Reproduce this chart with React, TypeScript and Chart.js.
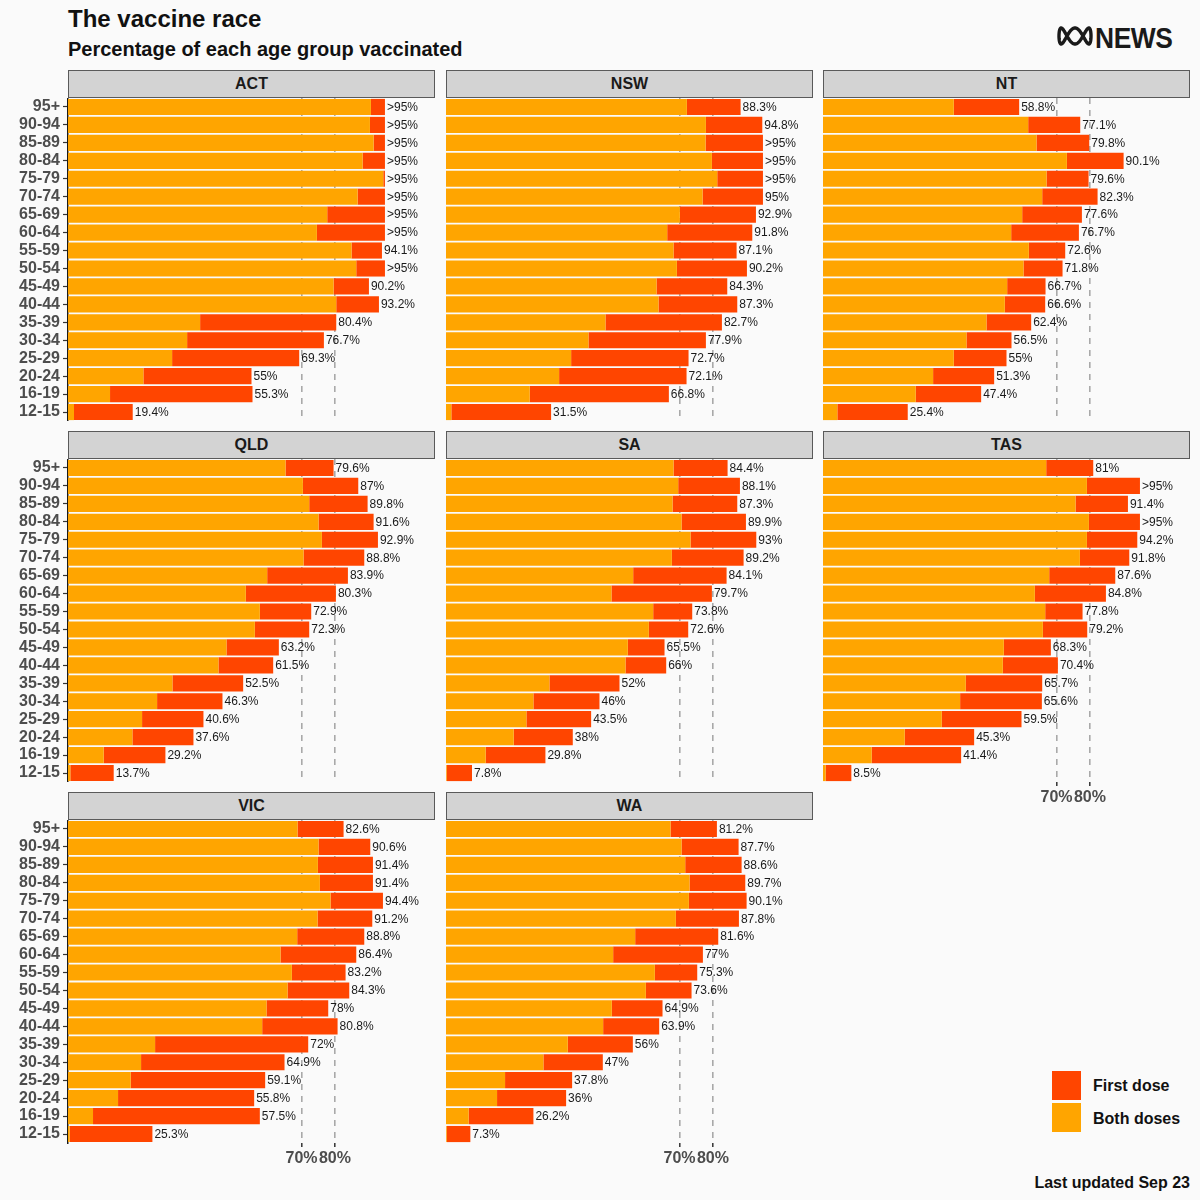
import React, { useEffect, useRef } from 'react';
import { Chart, registerables } from 'chart.js';

Chart.register(...registerables);

// ---------- data ----------
const AGE_GROUPS = ['95+', '90-94', '85-89', '80-84', '75-79', '70-74', '65-69', '60-64', '55-59', '50-54', '45-49', '40-44', '35-39', '30-34', '25-29', '20-24', '16-19', '12-15'];

// values above CAP are shown as ">95%" (96 stands for "above 95")
const CAP = 95;

const ACT_FIRST = [96, 96, 96, 96, 96, 96, 96, 96, 94.1, 96, 90.2, 93.2, 80.4, 76.7, 69.3, 55, 55.3, 19.4];
const ACT_BOTH = [90.8, 90.5, 91.6, 88.3, 94.5, 86.8, 77.7, 74.6, 85.0, 86.4, 79.6, 80.4, 39.6, 35.7, 31.2, 22.6, 12.6, 1.8];

const NSW_FIRST = [88.3, 94.8, 96, 96, 96, 95, 92.9, 91.8, 87.1, 90.2, 84.3, 87.3, 82.7, 77.9, 72.7, 72.1, 66.8, 31.5];
const NSW_BOTH = [72.2, 77.9, 77.8, 79.7, 81.3, 76.9, 70.1, 66.3, 68.2, 69.2, 63.1, 63.7, 47.8, 42.7, 37.5, 33.9, 25.1, 1.6];

const NT_FIRST = [58.8, 77.1, 79.8, 90.1, 79.6, 82.3, 77.6, 76.7, 72.6, 71.8, 66.7, 66.6, 62.4, 56.5, 55, 51.3, 47.4, 25.4];
const NT_BOTH = [39.2, 61.5, 64.0, 73.1, 67.0, 65.7, 59.7, 56.4, 61.7, 60.1, 55.2, 54.5, 49.0, 43.0, 39.2, 33.0, 27.8, 4.3];

const QLD_FIRST = [79.6, 87, 89.8, 91.6, 92.9, 88.8, 83.9, 80.3, 72.9, 72.3, 63.2, 61.5, 52.5, 46.3, 40.6, 37.6, 29.2, 13.7];
const QLD_BOTH = [65.2, 70.4, 72.3, 75.1, 76.1, 70.6, 59.7, 53.3, 57.5, 56.0, 47.5, 45.1, 31.3, 26.7, 22.2, 19.3, 10.7, 0.7];

const SA_FIRST = [84.4, 88.1, 87.3, 89.9, 93, 89.2, 84.1, 79.7, 73.8, 72.6, 65.5, 66, 52, 46, 43.5, 38, 29.8, 7.8];
const SA_BOTH = [68.2, 69.6, 67.9, 70.6, 73.3, 67.7, 56.1, 49.6, 62.1, 60.8, 54.5, 53.8, 31.0, 26.2, 24.1, 20.3, 11.9, 0.2];

const TAS_FIRST = [81, 96, 91.4, 96, 94.2, 91.8, 87.6, 84.8, 77.8, 79.2, 68.3, 70.4, 65.7, 65.6, 59.5, 45.3, 41.4, 8.5];
const TAS_BOTH = [66.9, 79.1, 75.7, 79.7, 79.1, 77.0, 67.8, 63.5, 66.6, 65.9, 54.2, 53.9, 42.8, 41.1, 35.6, 24.5, 14.6, 0.8];

const VIC_FIRST = [82.6, 90.6, 91.4, 91.4, 94.4, 91.2, 88.8, 86.4, 83.2, 84.3, 78, 80.8, 72, 64.9, 59.1, 55.8, 57.5, 25.3];
const VIC_BOTH = [68.8, 75.1, 74.9, 75.5, 78.7, 74.8, 68.7, 63.7, 67.1, 65.8, 59.5, 58.2, 26.1, 21.9, 18.8, 15.0, 7.5, 0.5];

const WA_FIRST = [81.2, 87.7, 88.6, 89.7, 90.1, 87.8, 81.6, 77, 75.3, 73.6, 64.9, 63.9, 56, 47, 37.8, 36, 26.2, 7.3];
const WA_BOTH = [67.3, 70.6, 71.7, 73.0, 72.8, 68.9, 56.7, 50.1, 62.6, 59.9, 49.7, 47.1, 36.5, 29.2, 17.7, 15.3, 6.8, 0.2];

const X_TICKS = [70, 80];

const PANELS = [
  { name: 'ACT', first: ACT_FIRST, both: ACT_BOTH },
  { name: 'NSW', first: NSW_FIRST, both: NSW_BOTH },
  { name: 'NT', first: NT_FIRST, both: NT_BOTH },
  { name: 'QLD', first: QLD_FIRST, both: QLD_BOTH },
  { name: 'SA', first: SA_FIRST, both: SA_BOTH },
  { name: 'TAS', first: TAS_FIRST, both: TAS_BOTH },
  { name: 'VIC', first: VIC_FIRST, both: VIC_BOTH },
  { name: 'WA', first: WA_FIRST, both: WA_BOTH },
];

// ---------- layout / style ----------
const FONT = '"Liberation Sans", Arial, Helvetica, sans-serif';
const BG = '#FAFAFA';
const ORANGE = '#FFA500';
const RED = '#FF4500';
const COL_LEFT = [68, 446, 823];
const ROW_TOP = [98, 459, 820];
const PW = 367;
const PH = 323;
const AXW = 66;
const XAXH = 30;
const HEAD_H = 28;

type PanelProps = { name: string; first: number[]; both: number[]; col: number; row: number; showX: boolean; showY: boolean };

function Panel({ name, first, both, col, row, showX, showY }: PanelProps) {
  const ref = useRef<HTMLCanvasElement>(null);
  const left = COL_LEFT[col];
  const top = ROW_TOP[row];
  const cw = AXW + PW;
  const ch = PH + (showX ? XAXH : 0);

  useEffect(() => {
    const shown = first.map((v) => Math.min(v, CAP));
    const valueLabels = {
      id: 'valueLabels',
      afterDatasetsDraw(chart: any) {
        const { ctx } = chart;
        const xs = chart.scales.x;
        const ys = chart.scales.y;
        ctx.save();
        ctx.font = `12px ${FONT}`;
        ctx.fillStyle = '#1a1a1a';
        ctx.textBaseline = 'middle';
        ctx.textAlign = 'left';
        first.forEach((v, i) => {
          const txt = v > CAP ? '>95%' : `${v}%`;
          ctx.fillText(txt, xs.getPixelForValue(shown[i]) + 2, ys.getPixelForValue(i) + 0.5);
        });
        ctx.restore();
      },
    };
    const chart = new Chart(ref.current as HTMLCanvasElement, {
      type: 'bar',
      data: {
        labels: AGE_GROUPS,
        datasets: [
          {
            label: 'Both doses',
            data: both,
            backgroundColor: ORANGE,
            borderWidth: 0,
            barPercentage: 0.9,
            categoryPercentage: 1,
          },
          {
            label: 'First dose',
            data: shown.map((v, i) => v - both[i]),
            backgroundColor: RED,
            borderWidth: 0,
            barPercentage: 0.9,
            categoryPercentage: 1,
          },
        ],
      },
      options: {
        indexAxis: 'y',
        responsive: false,
        animation: false,
        layout: { padding: 0 },
        plugins: { legend: { display: false }, tooltip: { enabled: false } },
        scales: {
          x: {
            stacked: true,
            min: 0,
            max: 110,
            afterBuildTicks: (s: any) => {
              s.ticks = X_TICKS.map((value) => ({ value }));
            },
            afterFit: (s: any) => {
              s.height = showX ? XAXH : 0;
              s.paddingLeft = 0;
              s.paddingRight = 0;
            },
            ticks: {
              display: showX,
              padding: 2,
              color: '#4D4D4D',
              font: { family: FONT, size: 16, weight: 'bold' },
              callback: (v: any) => `${v}%`,
              maxRotation: 0,
            },
            grid: {
              color: '#A9A9A9',
              lineWidth: 1.6,
              drawTicks: showX,
              tickLength: 4,
              tickColor: '#333333',
              tickWidth: 1.5,
            },
            border: { display: false, dash: [6, 6] },
          },
          y: {
            stacked: true,
            afterFit: (s: any) => {
              s.width = AXW;
              s.paddingTop = 0;
              s.paddingBottom = 0;
            },
            ticks: {
              display: showY,
              autoSkip: false,
              padding: 3,
              color: '#4D4D4D',
              font: { family: FONT, size: 16, weight: 'bold' },
            },
            grid: {
              drawOnChartArea: false,
              offset: false,
              drawTicks: showY,
              tickLength: 5,
              tickColor: '#333333',
              tickWidth: 1.2,
            },
            border: { display: showY, color: '#1a1a1a', width: 1.5 },
          },
        },
      } as any,
      plugins: [valueLabels],
    });
    return () => chart.destroy();
  }, []);

  return (
    <>
      <div
        style={{
          position: 'absolute',
          left: left,
          top: top - HEAD_H,
          width: PW,
          height: HEAD_H,
          boxSizing: 'border-box',
          background: '#D3D3D3',
          border: '1px solid #5a5a5a',
          display: 'flex',
          alignItems: 'center',
          justifyContent: 'center',
          fontFamily: FONT,
          fontWeight: 'bold',
          fontSize: 16,
          color: '#1a1a1a',
        }}
      >
        {name}
      </div>
      <canvas
        ref={ref}
        width={cw}
        height={ch}
        style={{ position: 'absolute', left: left - AXW, top: top, width: cw, height: ch }}
      />
    </>
  );
}

function AbcLogo() {
  const pts: string[] = [];
  const w = 36;
  const h = 20;
  for (let k = 0; k <= 200; k++) {
    const t = (k / 200) * Math.PI * 2;
    const x = w / 2 + (w / 2 - 2) * Math.cos(t);
    const y = h / 2 + (h / 2 - 2) * Math.sin(3 * t);
    pts.push(`${x.toFixed(2)},${y.toFixed(2)}`);
  }
  return (
    <svg width={w} height={h} style={{ position: 'absolute', left: 1057, top: 26 }}>
      <polyline points={pts.join(' ')} fill="none" stroke="#1a1a1a" strokeWidth={3.4} />
    </svg>
  );
}

export default function App() {
  return (
    <div
      style={{
        position: 'absolute',
        left: 0,
        top: 0,
        width: 1200,
        height: 1200,
        background: BG,
        overflow: 'hidden',
        fontFamily: FONT,
      }}
    >
      <div style={{ position: 'absolute', left: 68, top: 7, fontSize: 24, lineHeight: '24px', fontWeight: 'bold', color: '#111' }}>
        The vaccine race
      </div>
      <div style={{ position: 'absolute', left: 68, top: 39, fontSize: 20, lineHeight: '20px', fontWeight: 'bold', color: '#111' }}>
        Percentage of each age group vaccinated
      </div>
      <AbcLogo />
      <div
        style={{
          position: 'absolute',
          left: 1095,
          top: 23,
          fontSize: 30,
          lineHeight: '30px',
          fontWeight: 'bold',
          color: '#1a1a1a',
          transform: 'scaleX(0.88)',
          transformOrigin: 'left top',
          letterSpacing: -0.5,
        }}
      >
        NEWS
      </div>

      {PANELS.map((p, i) => {
        const row = Math.floor(i / 3);
        const col = i % 3;
        const showX = i >= 5;
        return <Panel key={p.name} name={p.name} first={p.first} both={p.both} col={col} row={row} showX={showX} showY={col === 0} />;
      })}

      <div style={{ position: 'absolute', left: 1052, top: 1071, width: 29, height: 29, background: RED }} />
      <div style={{ position: 'absolute', left: 1052, top: 1103, width: 29, height: 29, background: ORANGE }} />
      <div style={{ position: 'absolute', left: 1093, top: 1078, fontSize: 16, lineHeight: '16px', fontWeight: 'bold', color: '#111' }}>
        First dose
      </div>
      <div style={{ position: 'absolute', left: 1093, top: 1111, fontSize: 16, lineHeight: '16px', fontWeight: 'bold', color: '#111' }}>
        Both doses
      </div>
      <div
        style={{
          position: 'absolute',
          right: 10,
          top: 1175,
          fontSize: 16,
          lineHeight: '16px',
          fontWeight: 'bold',
          color: '#111',
          whiteSpace: 'nowrap',
        }}
      >
        Last updated Sep 23
      </div>
    </div>
  );
}
